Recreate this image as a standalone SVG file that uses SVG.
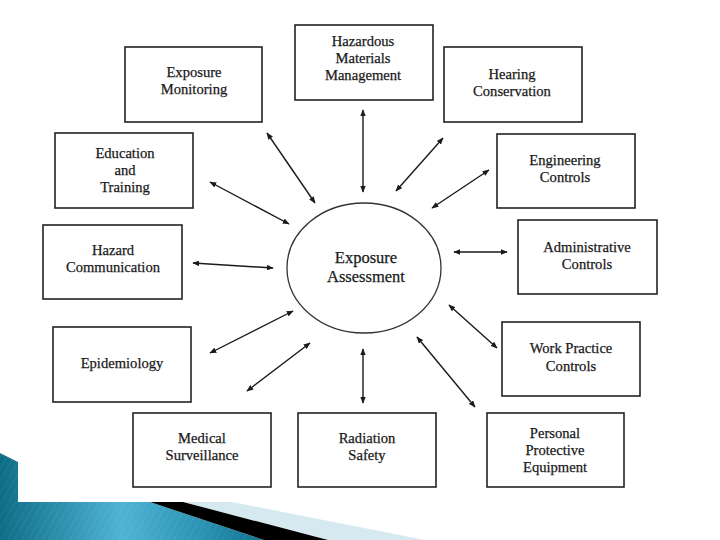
<svg xmlns="http://www.w3.org/2000/svg" width="720" height="540" viewBox="0 0 720 540">
<defs>
<style>
.box{fill:#fff;stroke:#222;stroke-width:1.6}
.t{font-family:"Liberation Serif","Times New Roman",serif;font-size:14.6px;fill:#1a1a1a;stroke:#1a1a1a;stroke-width:0.25;text-anchor:middle}
.c{stroke:#1a1a1a;stroke-width:1.4;fill:none;marker-start:url(#ah);marker-end:url(#ah)}
</style>
<marker id="ah" viewBox="0 0 10 8" refX="9" refY="4" markerWidth="7" markerHeight="5.6" markerUnits="userSpaceOnUse" orient="auto-start-reverse">
<path d="M0,0 L10,4 L0,8 Z" fill="#1a1a1a"/>
</marker>
<linearGradient id="teal" gradientUnits="userSpaceOnUse" x1="0" y1="0" x2="270" y2="0">
<stop offset="0" stop-color="#0e6d86"/>
<stop offset="0.45" stop-color="#4fb3d4"/>
<stop offset="0.75" stop-color="#2b93b4"/>
<stop offset="1" stop-color="#0c6f8c"/>
</linearGradient>
<pattern id="stripes" width="6" height="6" patternUnits="userSpaceOnUse" patternTransform="rotate(30)">
<line x1="0" y1="0" x2="0" y2="6" stroke="#ffffff" stroke-opacity="0.12" stroke-width="1"/>
</pattern>
</defs>
<rect width="720" height="540" fill="#fff"/>
<g id="decoration">
<path d="M0,453 L18,462 L18,502 L150,502 L264,540 L0,540 Z" fill="url(#teal)"/>
<path d="M0,453 L18,462 L18,502 L150,502 L264,540 L0,540 Z" fill="url(#stripes)"/>
<path d="M183,502 L232,502 L425,540 L328,540 Z" fill="#d6e9f0"/>
<path d="M150,502 L183,502 L328,540 L264,540 Z" fill="#000"/>
</g>
<g id="connectors">
<line class="c" x1="267" y1="133" x2="315" y2="203"/>
<line class="c" x1="363" y1="110" x2="363" y2="192"/>
<line class="c" x1="443" y1="138" x2="396" y2="191"/>
<line class="c" x1="489" y1="170" x2="432" y2="208"/>
<line class="c" x1="454" y1="252" x2="507" y2="252"/>
<line class="c" x1="449" y1="305" x2="497" y2="348"/>
<line class="c" x1="417" y1="337" x2="475" y2="407"/>
<line class="c" x1="363" y1="349" x2="363" y2="403"/>
<line class="c" x1="247" y1="391" x2="310" y2="343"/>
<line class="c" x1="210" y1="353" x2="293" y2="311"/>
<line class="c" x1="193" y1="263" x2="273" y2="268"/>
<line class="c" x1="210" y1="182" x2="289" y2="224"/>
</g>
<g id="center">
<ellipse cx="364" cy="268" rx="77" ry="65" fill="#fff" stroke="#333" stroke-width="1.3"/>
<text class="t" style="font-size:16.5px" x="366" y="263">Exposure</text>
<text class="t" style="font-size:16.5px" x="366" y="282">Assessment</text>
</g>
<g id="exposure-monitoring">
<rect class="box" x="125" y="47" width="137" height="75"/>
<text class="t" x="194" y="77">Exposure</text>
<text class="t" x="194" y="94">Monitoring</text>
</g>
<g id="hazardous-materials">
<rect class="box" x="295" y="25" width="138" height="75"/>
<text class="t" x="363" y="46">Hazardous</text>
<text class="t" x="363" y="63">Materials</text>
<text class="t" x="363" y="80">Management</text>
</g>
<g id="hearing-conservation">
<rect class="box" x="444" y="47" width="138" height="75"/>
<text class="t" x="512" y="79">Hearing</text>
<text class="t" x="512" y="96">Conservation</text>
</g>
<g id="engineering-controls">
<rect class="box" x="497" y="134" width="138" height="74"/>
<text class="t" x="565" y="165">Engineering</text>
<text class="t" x="565" y="182">Controls</text>
</g>
<g id="administrative-controls">
<rect class="box" x="518" y="220" width="139" height="74"/>
<text class="t" x="587" y="252">Administrative</text>
<text class="t" x="587" y="269">Controls</text>
</g>
<g id="work-practice-controls">
<rect class="box" x="502" y="322" width="138" height="74"/>
<text class="t" x="571" y="353">Work Practice</text>
<text class="t" x="571" y="371">Controls</text>
</g>
<g id="personal-protective-equipment">
<rect class="box" x="487" y="413" width="137" height="74"/>
<text class="t" x="555" y="438">Personal</text>
<text class="t" x="555" y="455">Protective</text>
<text class="t" x="555" y="472">Equipment</text>
</g>
<g id="radiation-safety">
<rect class="box" x="298" y="413" width="138" height="74"/>
<text class="t" x="367" y="443">Radiation</text>
<text class="t" x="367" y="460">Safety</text>
</g>
<g id="medical-surveillance">
<rect class="box" x="133" y="413" width="138" height="74"/>
<text class="t" x="202" y="443">Medical</text>
<text class="t" x="202" y="460">Surveillance</text>
</g>
<g id="epidemiology">
<rect class="box" x="53" y="327" width="138" height="75"/>
<text class="t" x="122" y="368">Epidemiology</text>
</g>
<g id="hazard-communication">
<rect class="box" x="43" y="225" width="139" height="74"/>
<text class="t" x="113" y="255">Hazard</text>
<text class="t" x="113" y="272">Communication</text>
</g>
<g id="education-training">
<rect class="box" x="55" y="133" width="138" height="75"/>
<text class="t" x="125" y="158">Education</text>
<text class="t" x="125" y="175">and</text>
<text class="t" x="125" y="192">Training</text>
</g>
</svg>
